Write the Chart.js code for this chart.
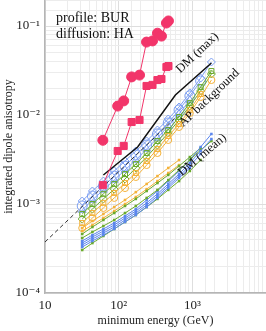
<!DOCTYPE html>
<html>
<head>
<meta charset="utf-8">
<script src="https://cdn.jsdelivr.net/npm/chart.js@4/dist/chart.umd.min.js"></script>
<style>
  body { margin: 0; background: #fff; }
</style>
</head>
<body>
<canvas id="chart" width="266" height="331"></canvas>
<script>
// energy grid shared by the blue / green / yellow curves (GeV)
const energies = [32, 44, 62, 87, 122, 171, 240, 336, 471, 660, 925, 1296, 1815];

// upper bundle, open markers
const blueDiamond = [1.08e-3, 1.40e-3, 1.81e-3, 2.35e-3, 3.04e-3, 3.94e-3, 5.10e-3, 6.78e-3, 9.02e-3, 1.23e-2, 1.77e-2, 2.60e-2, 3.94e-2];
const blueCircle = [9.5e-4, 1.23e-3, 1.59e-3, 2.06e-3, 2.67e-3, 3.55e-3, 4.60e-3, 6.12e-3, 8.13e-3, 1.14e-2, 1.64e-2, 2.41e-2];
const blueTriangle = [8.56e-4, 1.11e-3, 1.44e-3, 1.86e-3, 2.41e-3, 3.12e-3, 4.15e-3, 5.51e-3, 7.52e-3, 1.03e-2, 1.47e-2];
const greenSquare = [7.72e-4, 1.0e-3, 1.30e-3, 1.68e-3, 2.17e-3, 2.81e-3, 3.74e-3, 5.10e-3, 6.78e-3, 9.50e-3, 1.36e-2, 2.06e-2, 3.12e-2];
const greenDiamond = [6.78e-4, 8.78e-4, 1.14e-3, 1.47e-3, 1.91e-3, 2.54e-3, 3.37e-3, 4.60e-3, 6.28e-3, 8.78e-3, 1.26e-2, 1.86e-2, 2.89e-2];
const yellowSquare = [6.12e-4, 7.92e-4, 1.03e-3, 1.33e-3, 1.72e-3, 2.23e-3, 3.04e-3, 4.15e-3, 5.81e-3, 7.92e-3, 1.14e-2, 1.72e-2];
const yellowCircle = [5.37e-4, 6.96e-4, 9.02e-4, 1.17e-3, 1.51e-3, 2.01e-3, 2.74e-3, 3.74e-3, 5.24e-3, 7.33e-3, 1.05e-2, 1.59e-2, 2.47e-2];

// lower bundle (DM mean), small filled markers
const blueMean1 = [3.84e-4, 4.48e-4, 5.24e-4, 6.12e-4, 7.33e-4, 8.78e-4, 1.11e-3, 1.40e-3, 1.81e-3, 2.35e-3, 3.12e-3, 4.37e-3, 6.12e-3];
const blueMean2 = [3.64e-4, 4.26e-4, 4.97e-4, 5.81e-4, 6.96e-4, 8.34e-4, 1.03e-3, 1.30e-3, 1.68e-3, 2.17e-3, 2.89e-3, 3.94e-3, 5.37e-3];
const blueMean3 = [3.46e-4, 4.04e-4, 4.72e-4, 5.51e-4, 6.61e-4, 7.92e-4, 9.74e-4, 1.23e-3, 1.59e-3, 2.06e-3, 2.67e-3, 3.65e-3];
const blueMean4 = [3.28e-4, 3.84e-4, 4.48e-4, 5.24e-4, 6.28e-4, 7.52e-4, 9.25e-4, 1.17e-3, 1.51e-3, 1.96e-3, 2.54e-3];
const greenMean1 = [4.60e-4, 5.51e-4, 6.61e-4, 7.92e-4, 9.50e-4, 1.14e-3, 1.40e-3, 1.72e-3, 2.12e-3, 2.67e-3, 3.37e-3, 4.26e-3];
const greenMean2 = [4.15e-4, 4.85e-4, 5.66e-4, 6.61e-4, 7.92e-4, 9.50e-4, 1.17e-3, 1.44e-3, 1.86e-3, 2.41e-3, 3.12e-3, 4.04e-3, 5.10e-3];
const greenMean3 = [3.04e-4, 3.64e-4, 4.37e-4, 5.24e-4, 6.28e-4, 7.52e-4, 9.25e-4, 1.14e-3, 1.44e-3, 1.81e-3, 2.35e-3, 3.12e-3];
const yellowMean1 = [5.37e-4, 6.44e-4, 7.72e-4, 9.25e-4, 1.11e-3, 1.36e-3, 1.68e-3, 2.06e-3, 2.54e-3, 3.12e-3];
const yellowMean2 = [4.97e-4, 5.81e-4, 6.96e-4, 8.34e-4, 1.0e-3, 1.20e-3, 1.47e-3, 1.81e-3, 2.23e-3, 2.74e-3];

// red measurements
const redEnergies = [61, 97, 117, 150, 192, 239, 288, 336, 381, 445, 474];
const redCircle = [5.2e-3, 1.26e-2, 1.44e-2, 2.68e-2, 2.81e-2, 6.6e-2, 6.8e-2, 8.3e-2, 7.7e-2, 0.108, 0.114];
const redSquare = [1.63e-3, 3.94e-3, 4.49e-3, 8.34e-3, 8.79e-3, 2.12e-2, 2.18e-2, 2.47e-2, 2.54e-2, 3.46e-2, 3.55e-2];

// reference curves
const dmMaxEnergies = [62, 181, 589, 1815];
const dmMax = [2.12e-3, 4.37e-3, 1.68e-2, 3.84e-2];
const apEnergies = [10, 600];
const apBackground = [3.74e-4, 9.5e-3];

const BLUE = '#5b86ee';
const BLUE_OPEN = '#7c9ff2';
const GREEN = '#6aab2c';
const YELLOW = '#f4b23a';
const RED = '#f2356a';
const SERIF = '"Liberation Serif", "DejaVu Serif", serif';

const pts = (xs, ys) => ys.map((y, i) => ({ x: xs[i], y: y }));

function openSet(data, color, style, radius) {
    return {
        data: pts(energies, data), showLine: true, borderColor: color, borderWidth: 1,
        pointStyle: style, pointRadius: radius, pointBorderColor: color, pointBorderWidth: 1,
        pointBackgroundColor: 'rgba(255,255,255,0)', order: 3
    };
}
function meanSet(data, color) {
    return {
        data: pts(energies, data), showLine: true, borderColor: color, borderWidth: 1,
        pointStyle: 'rect', pointRadius: 1.8, pointBorderWidth: 0,
        pointBackgroundColor: color, order: 4
    };
}

const sup = { '-': '⁻', '0': '⁰', '1': '¹', '2': '²', '3': '³', '4': '⁴', '5': '⁵' };
function powLabel(value, skip) {
    const e = Math.log10(value);
    const r = Math.round(e);
    if (Math.abs(e - r) > 1e-6 || skip.includes(r)) return '';
    if (r === 1) return '10';
    return '10' + String(r).split('').map(c => sup[c]).join('');
}
function isMajor(v) {
    const e = Math.log10(v);
    return Math.abs(e - Math.round(e)) < 1e-6;
}

// text labels on the plot
const notes = {
    id: 'notes',
    afterDatasetsDraw(chart) {
        const { ctx, scales: { x, y } } = chart;
        ctx.save();
        ctx.fillStyle = '#111';
        ctx.font = '14px ' + SERIF;
        ctx.textAlign = 'left';
        ctx.textBaseline = 'alphabetic';
        ctx.fillText('profile: BUR', x.getPixelForValue(14.1), y.getPixelForValue(0.111));
        ctx.fillText('diffusion: HA', x.getPixelForValue(14.1), y.getPixelForValue(0.0733));

        const rotated = [
            ['DM (max)', 1169, 0.0498, -43],
            ['AP background', 1698, 0.0155, -43.5],
            ['DM (mean)', 1365, 0.00355, -40]
        ];
        ctx.font = '12.5px ' + SERIF;
        ctx.textAlign = 'center';
        ctx.textBaseline = 'middle';
        rotated.forEach(([txt, ex, ay, ang]) => {
            ctx.save();
            ctx.translate(x.getPixelForValue(ex), y.getPixelForValue(ay));
            ctx.rotate(ang * Math.PI / 180);
            ctx.fillText(txt, 0, 0);
            ctx.restore();
        });
        ctx.restore();
    }
};

new Chart(document.getElementById('chart'), {
    type: 'scatter',
    data: {
        datasets: [
            meanSet(blueMean4, BLUE), meanSet(blueMean3, BLUE), meanSet(greenMean3, GREEN),
            meanSet(blueMean2, BLUE), meanSet(greenMean2, GREEN), meanSet(blueMean1, BLUE),
            meanSet(greenMean1, GREEN), meanSet(yellowMean2, YELLOW), meanSet(yellowMean1, YELLOW),
            openSet(yellowCircle, YELLOW, 'circle', 3.5),
            openSet(yellowSquare, YELLOW, 'rect', 3.5),
            openSet(greenDiamond, GREEN, 'rectRot', 4),
            openSet(greenSquare, GREEN, 'rect', 3.5),
            openSet(blueTriangle, BLUE_OPEN, 'triangle', 4.5),
            openSet(blueCircle, BLUE_OPEN, 'circle', 5),
            openSet(blueDiamond, BLUE_OPEN, 'rectRot', 4),
            {
                data: pts(dmMaxEnergies, dmMax), showLine: true, borderColor: '#111',
                borderWidth: 1.5, pointRadius: 0, order: 1
            },
            {
                data: pts(apEnergies, apBackground), showLine: true, borderColor: '#333',
                borderWidth: 1, borderDash: [4, 3], pointRadius: 0, order: 1
            },
            {
                data: pts(redEnergies, redCircle), showLine: true, borderColor: RED, borderWidth: 1,
                pointStyle: 'circle', pointRadius: 5, pointBackgroundColor: RED,
                pointBorderColor: RED, order: 0
            },
            {
                data: pts(redEnergies, redSquare), showLine: true, borderColor: RED, borderWidth: 1,
                pointStyle: 'rect', pointRadius: 5, pointBackgroundColor: RED,
                pointBorderColor: RED, order: 0
            }
        ]
    },
    options: {
        responsive: false,
        animation: false,
        devicePixelRatio: 1,
        layout: { padding: 0, autoPadding: false },
        plugins: { legend: { display: false }, tooltip: { enabled: false } },
        scales: {
            x: {
                type: 'logarithmic',
                min: 10,
                max: 10000,
                afterFit: s => { s.height = 38; s.paddingLeft = 0; s.paddingRight = 0; },
                grid: {
                    drawTicks: false,
                    color: c => isMajor(c.tick.value) ? '#dedede' : '#ececec'
                },
                border: { color: '#b5b5b5', width: 1.5 },
                ticks: {
                    autoSkip: false, maxRotation: 0, padding: 5, color: '#222',
                    font: { family: SERIF, size: 13 },
                    callback: v => powLabel(v, [4])
                },
                title: {
                    display: true, text: 'minimum energy (GeV)', color: '#222',
                    font: { family: SERIF, size: 12 }, padding: { top: 0, bottom: 3 }
                }
            },
            y: {
                type: 'logarithmic',
                min: 1e-4,
                max: 0.196,
                afterFit: s => { s.width = 45; s.paddingTop = 0; s.paddingBottom = 0; },
                grid: {
                    drawTicks: false,
                    color: c => isMajor(c.tick.value) ? '#dedede' : '#ececec'
                },
                border: { color: '#b5b5b5', width: 1.5 },
                ticks: {
                    autoSkip: false, padding: 5, color: '#222',
                    font: { family: SERIF, size: 13 },
                    callback: v => powLabel(v, [])
                },
                title: {
                    display: true, text: 'integrated dipole anisotropy', color: '#222',
                    font: { family: SERIF, size: 12 }, padding: { top: 2, bottom: 0 }
                }
            }
        }
    },
    plugins: [notes]
});
</script>
</body>
</html>
